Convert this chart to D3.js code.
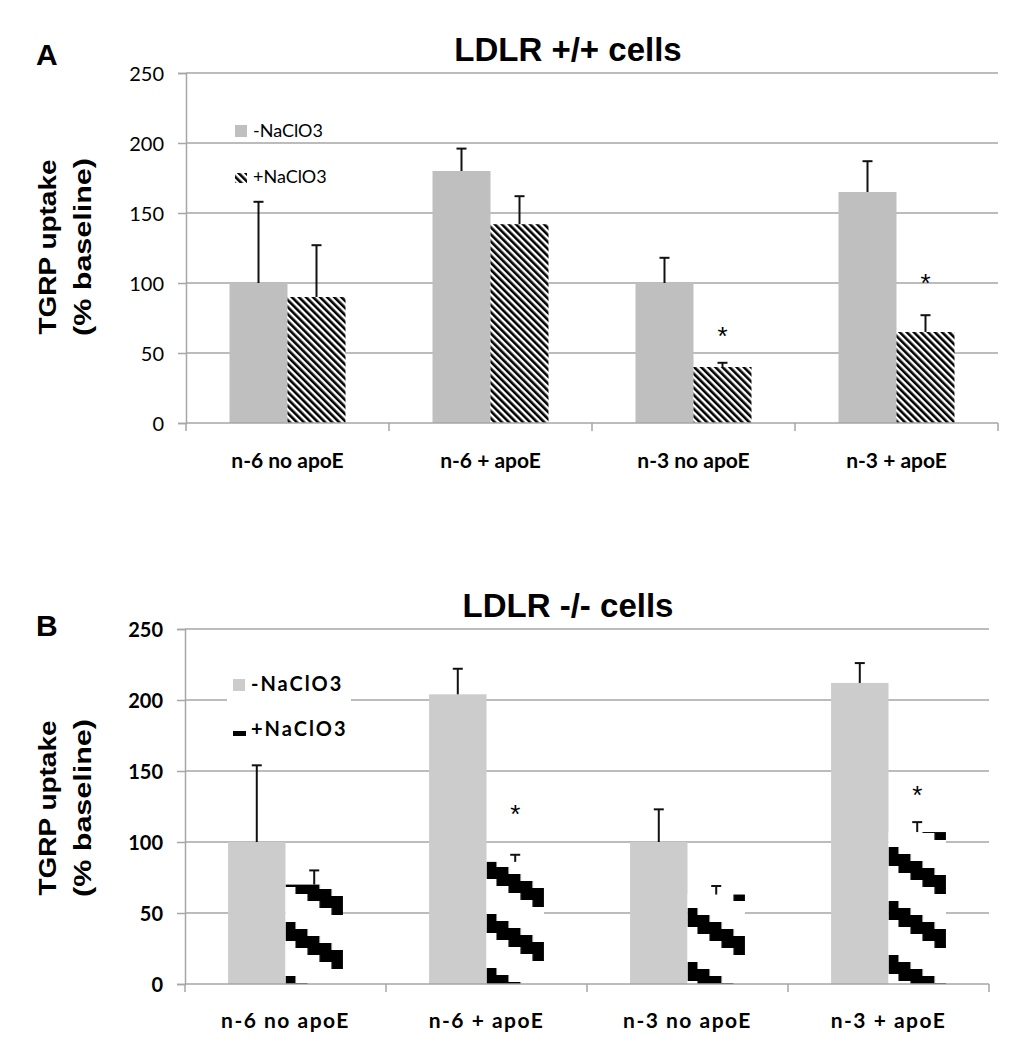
<!DOCTYPE html>
<html>
<head>
<meta charset="utf-8">
<script src="https://cdn.jsdelivr.net/npm/d3@7"></script>
<style>
  html, body { margin: 0; padding: 0; background: #fff; }
  svg { display: block; }
</style>
</head>
<body>
<svg id="chart" width="1009" height="1050"></svg>
<script>
// ---------------- data ----------------
const categories = ["n-6 no apoE", "n-6 + apoE", "n-3 no apoE", "n-3 + apoE"];
const seriesNames = ["-NaClO3", "+NaClO3"];
const yTicks = [0, 50, 100, 150, 200, 250];

// Panel A: LDLR +/+ cells
const aMinus = [100, 180, 100, 165];
const aMinusErr = [58, 16, 18, 22];
const aPlus = [90, 142, 40, 65];
const aPlusErr = [37, 20, 3, 12];
const aStars = [null, null, 64, 102];

// Panel B: LDLR -/- cells
const bMinus = [100, 204, 100, 212];
const bMinusErr = [54, 18, 23, 14];
const bPlus = [70, 86, 63, 107];
const bPlusErr = [10, 5, 6, 7];
const bStars = [null, 122, null, 135];

// ---------------- drawing ----------------
const svg = d3.select("#chart");
const defs = svg.append("defs");

// diagonal hatch (panel A)
const hatch = defs.append("pattern")
  .attr("id", "hatchA").attr("patternUnits", "userSpaceOnUse")
  .attr("width", 5).attr("height", 5)
  .attr("patternTransform", "rotate(-45)");
hatch.append("rect").attr("width", 5).attr("height", 5).attr("fill", "#fff");
hatch.append("rect").attr("width", 2.6).attr("height", 5).attr("fill", "#000");

const FONT_ARIAL = "'Liberation Sans', Arial, sans-serif";
const FONT_CAL = "Lato, 'Open Sans', sans-serif";

function drawPanel(cfg) {
  const x = d3.scaleBand().domain(categories).range([cfg.left, cfg.right]).padding(0);
  const xs = d3.scaleBand().domain(seriesNames).range([0, x.bandwidth()])
    .paddingInner(0).paddingOuter(0.75);
  const y = d3.scaleLinear().domain([0, 250]).range([cfg.bottom, cfg.top]);
  const g = svg.append("g");

  // gridlines
  g.selectAll("line.grid").data(yTicks.filter(d => d > 0)).join("line")
    .attr("x1", cfg.left).attr("x2", cfg.right)
    .attr("y1", d => y(d)).attr("y2", d => y(d))
    .attr("stroke", "#a6a6a6").attr("stroke-width", 1.5);

  // y axis
  const yAxis = d3.axisLeft(y).tickValues(yTicks).tickSize(8).tickPadding(14).tickFormat(d3.format("d"));
  const ya = g.append("g").attr("transform", `translate(${cfg.left},0)`).call(yAxis);
  ya.select(".domain").attr("stroke", "#a6a6a6").attr("stroke-width", 1.5);
  ya.selectAll(".tick line").attr("stroke", "#a6a6a6").attr("stroke-width", 1.5);
  ya.selectAll(".tick text")
    .attr("font-family", FONT_CAL).attr("font-size", cfg.tickSize)
    .attr("font-weight", cfg.tickWeight).attr("fill", "#000")
    .attr("dy", "0.36em");

  // legend background (panel B hides gridline)
  if (cfg.legendBg) {
    g.append("rect").attr("x", cfg.legend.x - 6).attr("y", cfg.legend.y - 16)
      .attr("width", 124).attr("height", 72).attr("fill", "#fff");
  }

  // bars -NaClO3
  g.selectAll("rect.minus").data(categories).join("rect")
    .attr("x", (c) => x(c) + xs(seriesNames[0]))
    .attr("width", xs.bandwidth())
    .attr("y", (c, i) => y(cfg.minus[i]))
    .attr("height", (c, i) => y(0) - y(cfg.minus[i]))
    .attr("fill", cfg.grey);

  // bars +NaClO3
  categories.forEach((c, i) => {
    const bx = x(c) + xs(seriesNames[1]);
    const by = y(cfg.plus[i]);
    const bh = y(0) - by;
    const w = xs.bandwidth();
    if (cfg.stair) {
      const pid = `stair${i}`;
      const p = defs.append("pattern").attr("id", pid)
        .attr("patternUnits", "userSpaceOnUse")
        .attr("x", bx).attr("y", cfg.stairPhase[i])
        .attr("width", w + 40).attr("height", 54);
      const sx = [0, 10, 22, 34, 46, w + 1];
      const tops = [0, 7, 14, 21, 28];
      const th = 19;
      let pts = [];
      for (let k = 0; k < 5; k++) { pts.push([sx[k], tops[k]]); pts.push([sx[k + 1], tops[k]]); }
      for (let k = 4; k >= 0; k--) { pts.push([sx[k + 1], tops[k] + th]); pts.push([sx[k], tops[k] + th]); }
      p.append("polygon").attr("points", pts.map(q => q.join(",")).join(" ")).attr("fill", "#000");
      g.append("rect").attr("x", bx).attr("y", by).attr("width", w).attr("height", bh)
        .attr("fill", "#fff");
      g.append("rect").attr("x", bx).attr("y", by).attr("width", w).attr("height", bh)
        .attr("fill", `url(#${pid})`);
    } else {
      g.append("rect").attr("x", bx).attr("y", by).attr("width", w).attr("height", bh)
        .attr("fill", "url(#hatchA)");
    }
  });

  // error bars
  const errs = [];
  categories.forEach((c, i) => {
    errs.push({ cx: x(c) + xs(seriesNames[0]) + xs.bandwidth() / 2, v: cfg.minus[i], e: cfg.minusErr[i] });
    errs.push({ cx: x(c) + xs(seriesNames[1]) + xs.bandwidth() / 2, v: cfg.plus[i], e: cfg.plusErr[i] });
  });
  const eg = g.selectAll("g.err").data(errs).join("g");
  eg.append("line").attr("x1", d => d.cx).attr("x2", d => d.cx)
    .attr("y1", d => y(d.v)).attr("y2", d => y(d.v + d.e))
    .attr("stroke", "#111").attr("stroke-width", 2);
  eg.append("line").attr("x1", d => d.cx - 5).attr("x2", d => d.cx + 5)
    .attr("y1", d => y(d.v + d.e)).attr("y2", d => y(d.v + d.e))
    .attr("stroke", "#111").attr("stroke-width", 2);

  // stars
  categories.forEach((c, i) => {
    if (cfg.stars[i] == null) return;
    g.append("text").attr("x", x(c) + xs(seriesNames[1]) + xs.bandwidth() / 2)
      .attr("y", y(cfg.stars[i]) + 12).attr("text-anchor", "middle")
      .attr("font-family", FONT_ARIAL).attr("font-size", 26).attr("fill", "#000").text("*");
  });

  // x axis
  g.append("line").attr("x1", cfg.left).attr("x2", cfg.right)
    .attr("y1", y(0)).attr("y2", y(0)).attr("stroke", "#a6a6a6").attr("stroke-width", 1.5);
  const bounds = categories.map(c => x(c)).concat([cfg.right]);
  g.selectAll("line.xt").data(bounds).join("line")
    .attr("x1", d => d).attr("x2", d => d).attr("y1", y(0)).attr("y2", y(0) + 8)
    .attr("stroke", "#a6a6a6").attr("stroke-width", 1.5);
  g.selectAll("text.cat").data(categories).join("text")
    .attr("x", c => x(c) + x.bandwidth() / 2).attr("y", cfg.catY)
    .attr("text-anchor", "middle").attr("font-family", FONT_CAL)
    .attr("font-size", cfg.catSize).attr("font-weight", "bold")
    .attr("letter-spacing", cfg.catSpacing).attr("fill", "#000").text(c => c);

  // title
  g.append("text").attr("x", 568).attr("y", cfg.titleY).attr("text-anchor", "middle")
    .attr("font-family", FONT_ARIAL).attr("font-size", 33).attr("font-weight", "bold")
    .attr("fill", "#000").text(cfg.title);
  // panel letter
  g.append("text").attr("x", 36).attr("y", cfg.letterY)
    .attr("font-family", FONT_ARIAL).attr("font-size", 30).attr("font-weight", "bold")
    .attr("fill", "#000").text(cfg.letter);

  // y label
  const yl = g.append("text").attr("transform", `translate(56,${cfg.ylabelY}) rotate(-90)`)
    .attr("text-anchor", "middle").attr("font-family", FONT_ARIAL)
    .attr("font-size", 24).attr("font-weight", "bold").attr("fill", "#000");
  yl.append("tspan").attr("x", 0).attr("y", 0).attr("textLength", 175).attr("lengthAdjust", "spacingAndGlyphs").text("TGRP uptake");
  yl.append("tspan").attr("x", 0).attr("y", 35).attr("textLength", 178).attr("lengthAdjust", "spacingAndGlyphs").text("(% baseline)");

  // legend
  const L = cfg.legend;
  g.append("rect").attr("x", L.x).attr("y", L.y - 12).attr("width", 12).attr("height", 12).attr("fill", cfg.grey);
  g.append("text").attr("x", L.x + 18).attr("y", L.y)
    .attr("font-family", FONT_CAL).attr("font-size", cfg.legSize).attr("font-weight", cfg.legWeight)
    .attr("letter-spacing", cfg.legSpacing).attr("fill", "#000").text(seriesNames[0]);
  if (cfg.stair) {
    g.append("rect").attr("x", L.x).attr("y", L.y + L.dy - 5).attr("width", 13).attr("height", 5).attr("fill", "#000");
  } else {
    g.append("rect").attr("x", L.x).attr("y", L.y + L.dy - 10).attr("width", 12).attr("height", 10).attr("fill", "url(#hatchA)");
  }
  g.append("text").attr("x", L.x + 18).attr("y", L.y + L.dy)
    .attr("font-family", FONT_CAL).attr("font-size", cfg.legSize).attr("font-weight", cfg.legWeight)
    .attr("letter-spacing", cfg.legSpacing).attr("fill", "#000").text(seriesNames[1]);
}

drawPanel({
  left: 186, right: 998, top: 73, bottom: 423,
  minus: aMinus, minusErr: aMinusErr, plus: aPlus, plusErr: aPlusErr, stars: aStars,
  grey: "#bfbfbf", stair: false,
  tickSize: 20, tickWeight: "normal",
  catY: 468, catSize: 21, catSpacing: 0,
  title: "LDLR +/+ cells", titleY: 61, letter: "A", letterY: 65, ylabelY: 247,
  legend: { x: 235, y: 137, dy: 46 }, legSize: 18, legWeight: "normal", legSpacing: 0,
  legendBg: false
});

drawPanel({
  left: 185, right: 989, top: 629, bottom: 984,
  minus: bMinus, minusErr: bMinusErr, plus: bPlus, plusErr: bPlusErr, stars: bStars,
  grey: "#cccccc", stair: true, stairPhase: [4, 50, 44, 37],
  tickSize: 20, tickWeight: "bold",
  catY: 1028, catSize: 21, catSpacing: 1.5,
  title: "LDLR -/- cells", titleY: 617, letter: "B", letterY: 636, ylabelY: 808,
  legend: { x: 233, y: 691, dy: 45 }, legSize: 20, legWeight: "bold", legSpacing: 2,
  legendBg: true
});
</script>
</body>
</html>
